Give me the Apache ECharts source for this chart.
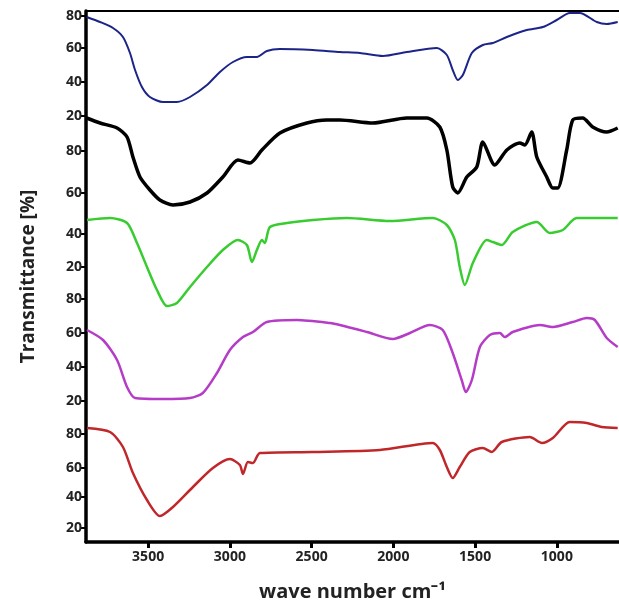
<!DOCTYPE html>
<html>
<head>
<meta charset="utf-8">
<script src="https://cdn.jsdelivr.net/npm/echarts@6/dist/echarts.min.js"></script>
<style>
html, body { margin: 0; padding: 0; background: #fff; }
#main { width: 619px; height: 604px; }
</style>
</head>
<body>
<div id="main"></div>
<script>
// the five spectra are stacked on one shared vertical scale (offset units),
// the left axis just repeats 80/60/40/20 for every trace
var yTickPos = [526, 494, 460, 426, 391, 349, 308, 275, 243, 209, 175, 141, 108, 74, 45, 14];
var yTickText = ['80', '60', '40', '20', '80', '60', '40', '20', '80', '60', '40', '20', '80', '60', '40', '20'];
var xTicks = [3500, 3000, 2500, 2000, 1500, 1000];

var blueData = [
  [3876, 525], [3794, 520], [3715, 514], [3654, 505], [3611, 489], [3580, 472], [3538, 455],
  [3489, 445], [3409, 440], [3324, 440], [3244, 445], [3140, 457], [3061, 470], [2981, 480],
  [2896, 485], [2835, 485], [2774, 491], [2694, 493], [2492, 492], [2327, 490], [2205, 489],
  [2064, 486], [1918, 490], [1734, 494], [1673, 487], [1637, 472], [1606, 462], [1575, 467],
  [1520, 489], [1453, 497], [1392, 499], [1306, 505], [1184, 512], [1086, 515], [1001, 522],
  [921, 529], [860, 529], [756, 520], [695, 518], [628, 520]
];
var blackData = [
  [3876, 424], [3794, 419], [3690, 414], [3629, 405], [3593, 385], [3550, 365], [3489, 352],
  [3428, 342], [3348, 337], [3244, 340], [3140, 349], [3043, 365], [2951, 382], [2877, 379],
  [2804, 392], [2694, 409], [2529, 419], [2407, 422], [2327, 422], [2126, 419], [1918, 424],
  [1795, 424], [1716, 415], [1673, 392], [1637, 355], [1606, 349], [1551, 365], [1490, 375],
  [1453, 400], [1380, 377], [1306, 392], [1227, 399], [1196, 397], [1154, 410], [1123, 385],
  [1062, 365], [1025, 354], [995, 354], [940, 392], [903, 422], [842, 424], [781, 415],
  [695, 410], [628, 414]
];
var greenData = [
  [3874, 322], [3733, 324], [3629, 319], [3568, 299], [3507, 275], [3446, 252], [3385, 236],
  [3324, 239], [3244, 255], [3140, 275], [3043, 292], [2951, 302], [2896, 297], [2865, 280],
  [2835, 292], [2804, 302], [2786, 299], [2755, 315], [2651, 319], [2492, 322], [2285, 324],
  [2022, 321], [1759, 324], [1673, 317], [1624, 302], [1594, 275], [1563, 257], [1514, 279],
  [1429, 302], [1392, 300], [1337, 297], [1270, 310], [1123, 320], [1044, 309], [964, 312],
  [879, 324], [628, 324]
];
var magentaData = [
  [3874, 212], [3776, 202], [3690, 182], [3629, 155], [3580, 144], [3409, 143], [3244, 144],
  [3165, 149], [3079, 169], [3000, 192], [2920, 205], [2859, 210], [2774, 220], [2590, 222],
  [2388, 219], [2327, 217], [2162, 210], [2003, 203], [1899, 209], [1777, 217], [1698, 212],
  [1637, 189], [1582, 162], [1557, 150], [1520, 162], [1471, 195], [1410, 207], [1349, 209],
  [1319, 205], [1270, 210], [1105, 217], [1025, 215], [903, 220], [817, 224], [768, 222],
  [695, 204], [628, 195]
];
var redData = [
  [3874, 114], [3733, 110], [3654, 95], [3593, 69], [3507, 42], [3428, 26], [3348, 35],
  [3226, 55], [3104, 74], [3000, 83], [2939, 77], [2920, 68], [2890, 80], [2859, 79],
  [2816, 89], [2492, 90], [2083, 92], [1759, 99], [1716, 92], [1673, 75], [1637, 64],
  [1594, 75], [1533, 90], [1453, 94], [1398, 90], [1337, 100], [1166, 105], [1092, 99],
  [1025, 104], [921, 120], [817, 119], [726, 115], [628, 114]
];

var chart = echarts.init(document.getElementById('main'));

function trace(data, color, width) {
  return {
    type: 'line',
    data: data,
    showSymbol: false,
    smooth: 0.25,
    lineStyle: { color: color, width: width },
    silent: true
  };
}

var labelFont = {
  color: '#222',
  fontWeight: 'bold',
  fontSize: 14,
  fontFamily: 'Open Sans'
};

var option = {
  backgroundColor: '#fff',
  animation: false,
  grid: { left: 86, right: 0, top: 11, bottom: 62, outerBoundsMode: 'none' },
  xAxis: [{
    type: 'value',
    min: 620,
    max: 3880,
    inverse: true,
    name: 'wave number cm⁻¹',
    nameLocation: 'middle',
    nameGap: 40,
    nameTextStyle: { color: '#222', fontWeight: 'bold', fontSize: 20, fontFamily: 'Open Sans' },
    axisLine: { lineStyle: { color: '#000', width: 3.5 } },
    axisTick: { show: true, customValues: xTicks, length: 6, lineStyle: { color: '#000', width: 3 } },
    axisLabel: Object.assign({
      customValues: xTicks,
      margin: 8,
      formatter: function (value) { return String(value); }
    }, labelFont),
    splitLine: { show: false }
  }, {
    type: 'value',
    position: 'top',
    min: 620,
    max: 3880,
    inverse: true,
    axisLine: { show: true, lineStyle: { color: '#000', width: 2 } },
    axisTick: { show: false },
    axisLabel: { show: false },
    splitLine: { show: false }
  }],
  yAxis: {
    type: 'value',
    min: 0,
    max: 531,
    name: 'Transmittance [%]',
    nameLocation: 'middle',
    nameGap: 48,
    nameTextStyle: { color: '#222', fontWeight: 'bold', fontSize: 19, fontFamily: 'Open Sans' },
    axisLine: { show: true, lineStyle: { color: '#000', width: 3.5 } },
    axisTick: { show: true, customValues: yTickPos, length: 5, lineStyle: { color: '#000', width: 2 } },
    axisLabel: Object.assign({
      customValues: yTickPos,
      margin: 4,
      formatter: function (value) {
        var i = yTickPos.indexOf(value);
        return i >= 0 ? yTickText[i] : '';
      }
    }, labelFont),
    splitLine: { show: false }
  },
  series: [
    trace(blueData, '#1c2488', 2),
    trace(blackData, '#000000', 3.5),
    trace(greenData, '#38cc30', 2.5),
    trace(magentaData, '#b53cc6', 2.5),
    trace(redData, '#c0272b', 2.5)
  ]
};

chart.setOption(option);
</script>
</body>
</html>
